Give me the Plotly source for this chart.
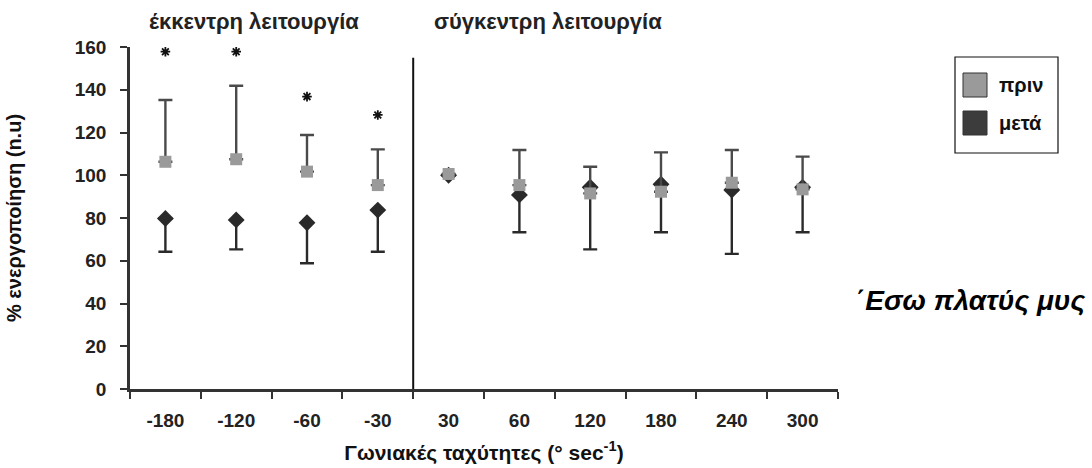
import plotly.graph_objects as go

categories = ["-180", "-120", "-60", "-30", "30", "60", "120", "180", "240", "300"]
before_mean = [106.3, 107.5, 101.7, 95.4, 100.6, 95.4, 91.5, 92.3, 96.5, 93.4]
before_upper = [135.2, 141.9, 118.8, 112.1, 100.6, 111.8, 104.0, 110.7, 111.8, 108.7]
after_mean = [79.8, 79.1, 77.8, 83.7, 100.0, 90.8, 94.4, 95.8, 93.1, 94.4]
after_lower = [64.2, 65.3, 58.8, 64.2, 100.0, 73.3, 65.3, 73.3, 63.2, 73.3]
star_cats = ["-180", "-120", "-60", "-30"]
star_vals = [157.8, 157.8, 136.8, 128.2]
y_ticks = [0, 20, 40, 60, 80, 100, 120, 140, 160]

GRAY = "#9a9a9a"
DARK = "#2a2a2a"
FONT = "Liberation Sans"

fig = go.Figure()

fig.add_trace(go.Scatter(
    x=categories, y=after_mean, mode="markers",
    marker=dict(symbol="diamond", size=13, color=DARK),
    error_y=dict(type="data", symmetric=False,
                 array=[0] * len(after_mean),
                 arrayminus=[m - l for m, l in zip(after_mean, after_lower)],
                 color=DARK, thickness=2.4, width=7),
    showlegend=False, cliponaxis=False,
))
fig.add_trace(go.Scatter(
    x=categories, y=before_mean, mode="markers",
    marker=dict(symbol="square", size=12, color=GRAY),
    error_y=dict(type="data", symmetric=False,
                 array=[u - m for m, u in zip(before_mean, before_upper)],
                 arrayminus=[0] * len(before_mean),
                 color="#4a4a4a", thickness=2.4, width=7),
    showlegend=False, cliponaxis=False,
))
fig.add_trace(go.Scatter(
    x=star_cats, y=star_vals, mode="markers",
    marker=dict(symbol="asterisk-open", size=8, color="#111",
                line=dict(color="#111", width=1.8)),
    showlegend=False, cliponaxis=False,
))

# divider between eccentric and concentric
fig.add_shape(type="line", xref="x", yref="y", x0=3.5, x1=3.5, y0=0, y1=155,
              line=dict(color="#111", width=2))

# section titles
for txt, xc in [("έκκεντρη λειτουργία", 1.25), ("σύγκεντρη λειτουργία", 5.4)]:
    fig.add_annotation(x=xc, y=(389 - 21) / 342, xref="x", yref="paper", text=txt,
                       showarrow=False, yanchor="middle", xanchor="center",
                       font=dict(family=FONT, size=22, color="#222", weight="bold"))

# legend box (manual)
fig.add_shape(type="rect", xref="paper", yref="paper",
              x0=(955 - 130) / 708, x1=(1058 - 130) / 708,
              y0=(389 - 153) / 342, y1=(389 - 57) / 342,
              line=dict(color="#111", width=1.2), fillcolor="white")
for label, col, yc in [("πριν", GRAY, 85), ("μετά", "#3c3c3c", 123)]:
    fig.add_shape(type="rect", xref="paper", yref="paper",
                  x0=(963 - 130) / 708, x1=(987 - 130) / 708,
                  y0=(389 - yc - 12) / 342, y1=(389 - yc + 12) / 342,
                  line=dict(color="#333", width=1), fillcolor=col)
    fig.add_annotation(x=(997 - 130) / 708, y=(389 - yc) / 342, xref="paper", yref="paper",
                       text=label, showarrow=False, xanchor="left", yanchor="middle",
                       font=dict(family=FONT, size=20, color="#111", weight="bold"))

fig.add_annotation(x=(1087 - 130) / 708, y=(389 - 300) / 342, xref="paper", yref="paper",
                   text="<i>΄Εσω πλατύς μυς</i>", showarrow=False, xanchor="right",
                   yanchor="middle",
                   font=dict(family=FONT, size=28, color="#000", weight="bold"))

fig.update_layout(
    width=1092, height=468,
    margin=dict(l=130, r=254, t=47, b=79),
    plot_bgcolor="white", paper_bgcolor="white",
    font=dict(family=FONT, color="#222"),
    xaxis=dict(type="category", range=[-0.5, 9.5], tickson="boundaries",
               ticks="outside", ticklen=7, tickwidth=2, tickcolor="#333",
               showline=True, linecolor="#333", linewidth=2.5, showgrid=False,
               ticklabelstandoff=12, automargin=False,
               tickfont=dict(family=FONT, size=19, color="#222", weight="bold"),
               title=dict(text="Γωνιακές ταχύτητες (° sec<sup>-1</sup>)",
                          font=dict(family=FONT, size=21, color="#111", weight="bold"),
                          standoff=16)),
    yaxis=dict(range=[0, 160], tickvals=y_ticks, ticks="outside", ticklen=7,
               tickwidth=2, tickcolor="#333", showline=True, linecolor="#333",
               linewidth=2.5, showgrid=False, zeroline=False,
               ticklabelstandoff=10, automargin=False,
               tickfont=dict(family=FONT, size=19, color="#222", weight="bold"),
               title=dict(text="% ενεργοποίηση (n.u)",
                          font=dict(family=FONT, size=20, color="#111", weight="bold"),
                          standoff=48)),
)

fig.write_html("out.html")
